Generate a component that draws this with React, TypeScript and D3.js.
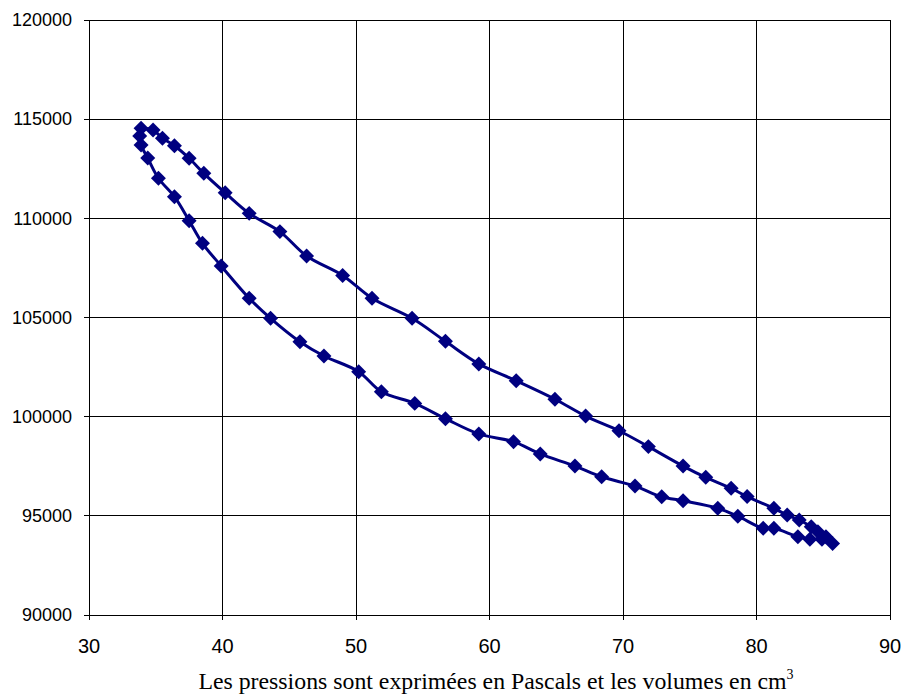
import * as d3 from "d3";
import React from "react";

// volumes (cm3) on x, pressions (Pa) on y - one cycle
const volumes = [
  33.9, 34.8, 35.5, 36.4, 37.5, 38.6, 40.2, 42.0, 44.3, 46.3, 49.0, 51.2, 54.2, 56.7, 59.2, 62.0,
  64.9, 67.2, 69.7, 71.9, 74.5, 76.2, 78.1, 79.3, 81.3, 82.3, 83.2, 84.1, 84.6, 85.2, 85.7,
  84.9, 84.0, 83.1, 81.3, 80.5, 78.6, 77.1, 74.5, 72.9, 70.9, 68.4, 66.4, 63.8, 61.8, 59.2, 56.7,
  54.4, 51.9, 50.2, 47.6, 45.8, 43.6, 42.0, 39.9, 38.5, 37.5, 36.4, 35.2, 34.4, 33.9, 33.8
];
const pressions = [
  114540, 114450, 114040, 113660, 113030, 112270, 111290, 110250, 109330, 108100, 107120, 105970,
  104960, 103800, 102660, 101810, 100880, 100030, 99290, 98490, 97510, 96940, 96390, 95970, 95380,
  95040, 94790, 94450, 94200, 93950, 93610,
  93820, 93820, 93950, 94370, 94370, 94980, 95380, 95760, 95960, 96500, 96970, 97510, 98120, 98740,
  99130, 99900, 100670, 101260, 102270, 103060, 103780, 104960, 105970, 107600, 108740, 109880,
  111090, 112020, 113040, 113700, 114150
];
const xTicks = [30, 40, 50, 60, 70, 80, 90];
const yTicks = [90000, 95000, 100000, 105000, 110000, 115000, 120000];

const W = 903;
const H = 695;
const plot = { left: 89, right: 890, top: 20, bottom: 615 };
const navy = "#000080";

export default function App() {
  const x = d3.scaleLinear().domain([30, 90]).range([plot.left, plot.right]);
  const y = d3.scaleLinear().domain([90000, 120000]).range([plot.bottom, plot.top]);

  const pts: [number, number][] = volumes.map((v, i) => [v, pressions[i]]);
  const line = d3
    .line<[number, number]>()
    .x(d => x(d[0]))
    .y(d => y(d[1]))
    .curve(d3.curveCatmullRom.alpha(0.5));

  const diamond = d3.symbol().type(d3.symbolSquare).size(112)();

  return (
    <div style={{ position: "absolute", left: 0, top: 0 }}>
      <svg width={W} height={H} style={{ display: "block", background: "#fff" }}>
        <g shapeRendering="crispEdges" stroke="#000" strokeWidth={1}>
          {xTicks.map(t => (
            <line key={"gx" + t} x1={x(t)} x2={x(t)} y1={plot.top} y2={plot.bottom + 5} />
          ))}
          {yTicks.map(t => (
            <line key={"gy" + t} x1={plot.left - 5} x2={plot.right} y1={y(t)} y2={y(t)} />
          ))}
        </g>
        <g fontFamily="'Liberation Sans', Arial, sans-serif" fill="#000">
          {yTicks.map(t => (
            <text key={"ty" + t} x={72} y={y(t)} dy="0.35em" textAnchor="end" fontSize={18}>
              {t}
            </text>
          ))}
          {xTicks.map(t => (
            <text key={"tx" + t} x={x(t)} y={653} textAnchor="middle" fontSize={20}>
              {t}
            </text>
          ))}
        </g>
        <path d={line(pts) ?? ""} fill="none" stroke={navy} strokeWidth={3} />
        {pts.map((d, i) => (
          <path
            key={i}
            d={diamond ?? ""}
            transform={`translate(${x(d[0])},${y(d[1])}) rotate(45)`}
            fill={navy}
          />
        ))}
        <text
          x={496}
          y={689}
          textAnchor="middle"
          fontFamily="'Liberation Serif', 'Times New Roman', serif"
          fontSize={23.8}
          fill="#000"
        >
          Les pressions sont exprimées en Pascals et les volumes en cm
          <tspan fontSize={14} dy={-10}>3</tspan>
        </text>
      </svg>
    </div>
  );
}
